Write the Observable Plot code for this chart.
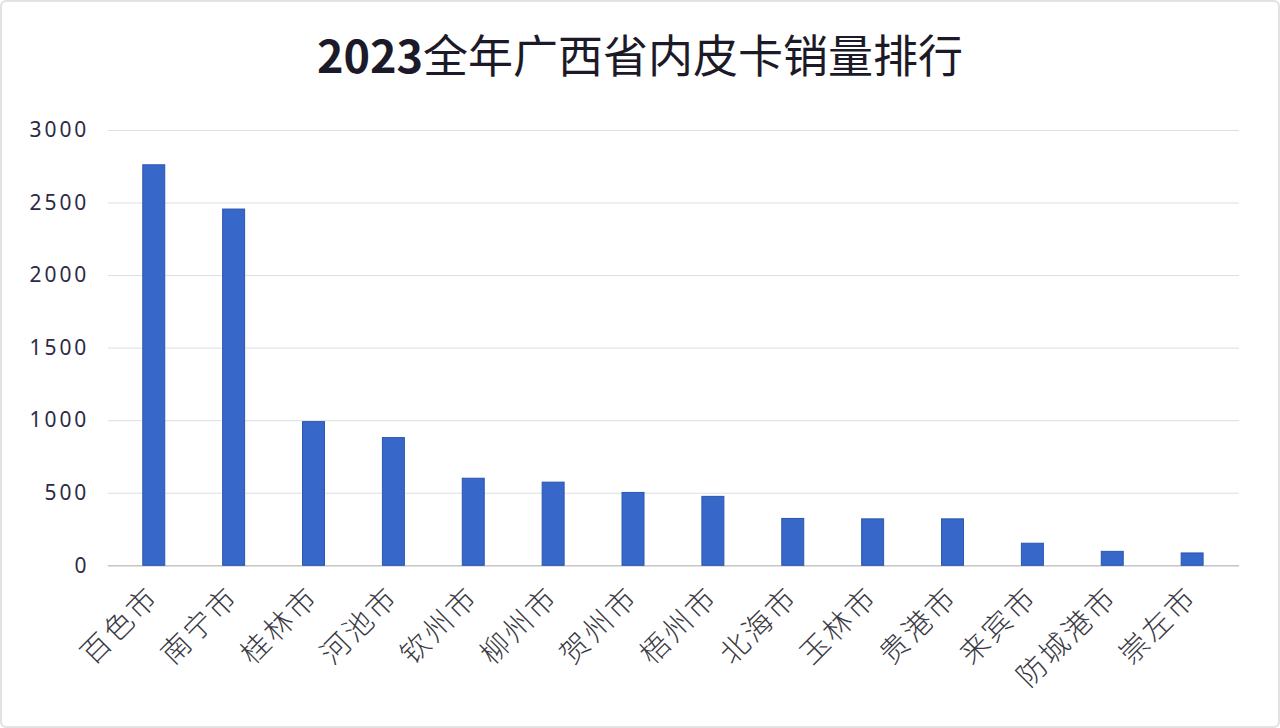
<!DOCTYPE html>
<html>
<head>
<meta charset="utf-8">
<script src="https://cdn.jsdelivr.net/npm/d3@7"></script>
<script src="https://cdn.jsdelivr.net/npm/@observablehq/plot@0.6"></script>
<style>
  html, body { margin: 0; padding: 0; background: #fff; }
  #frame { position: relative; width: 1276px; height: 724px; border: 2px solid #e2e2e2; border-radius: 6px; overflow: hidden; background:#fff; }
  #title { position: absolute; left: 0; right: 0; top: 22px; text-align: center; font-family: "Noto Sans CJK SC", "Noto Sans", sans-serif; font-weight: 400; font-size: 45px; line-height: 60px; color: #1c1a28; }
  #title b { font-weight: 700; }
  #chart { position: absolute; left: -2px; top: 108px; }
</style>
</head>
<body>
<div id="frame">
  <div id="title"><b>2023</b>全年广西省内皮卡销量排行</div>
  <div id="chart"></div>
</div>
<script>
const cities = ["百色市","南宁市","桂林市","河池市","钦州市","柳州市","贺州市","梧州市","北海市","玉林市","贵港市","来宾市","防城港市","崇左市"];
const sales = [2760, 2455, 990, 880, 600, 573, 502, 475, 323, 320, 320, 152, 96, 85];
const yTicks = [0, 500, 1000, 1500, 2000, 2500, 3000];

const data = cities.map((c, i) => ({city: c, value: sales[i]}));

const plot = Plot.plot({
  width: 1280,
  height: 618,
  marginTop: 20,
  marginBottom: 162,
  marginLeft: 108,
  marginRight: 39,
  style: {background: "transparent", overflow: "visible"},
  x: {domain: cities, paddingInner: 0.72, paddingOuter: 0.36, label: null},
  y: {domain: [0, 3000], label: null},
  marks: [
    Plot.gridY(yTicks, {stroke: "#dadee6", strokeOpacity: 1, strokeWidth: 1}),
    Plot.ruleY([0], {stroke: "#c8c8c8", strokeWidth: 1.5}),
    Plot.barY(data, {x: "city", y: "value", fill: "#3667c9", stroke: "#2b56ac", strokeWidth: 1}),
    Plot.axisY({ticks: yTicks, tickFormat: d => String(d), tickSize: 0, tickPadding: 19, fontSize: 21, fill: "#2e2944", fontFamily: "Noto Sans", label: null}),
    Plot.axisX({tickSize: 0, tickRotate: -45, tickPadding: 26, fontSize: 29, fill: "#3a3a44", fontFamily: "Noto Sans CJK SC", fontWeight: 300, label: null})
  ]
});
d3.select(plot).selectAll("[aria-label='y-axis tick label'] text").style("letter-spacing", "3px");
d3.select(plot).selectAll("[aria-label='x-axis tick label'] text").style("letter-spacing", "3px");
document.getElementById("chart").appendChild(plot);
</script>
</body>
</html>
